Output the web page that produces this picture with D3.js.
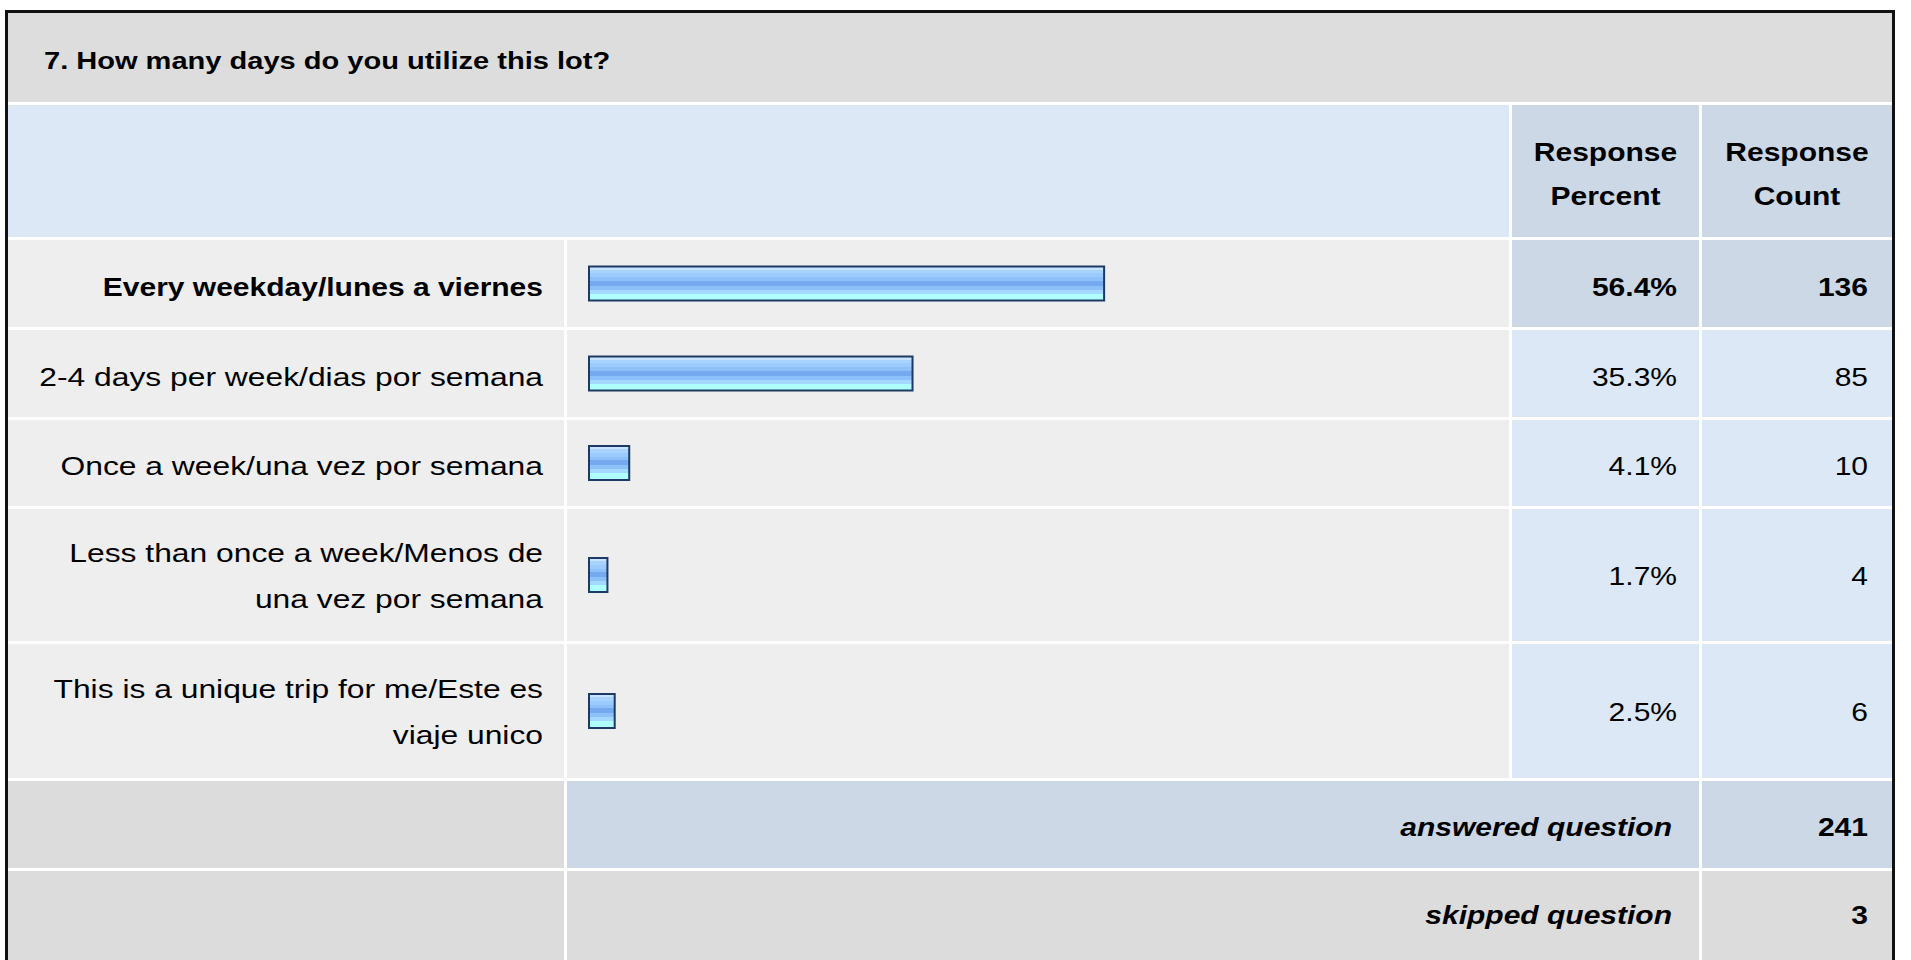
<!DOCTYPE html>
<html>
<head>
<meta charset="utf-8">
<script src="https://cdn.jsdelivr.net/npm/d3@7"></script>
<style>
  html, body { margin: 0; padding: 0; background: #ffffff; }
  svg { display: block; }
  text { font-family: "Liberation Sans", Arial, Helvetica, sans-serif; fill: #000; }
</style>
</head>
<body>
<svg id="chart" width="1911" height="960"></svg>
<script>
// ---------------- DATA ----------------
const questionTitle = "7. How many days do you utilize this lot?";
const headerPercent = ["Response", "Percent"];
const headerCount = ["Response", "Count"];
const categories = [
  ["Every weekday/lunes a viernes"],
  ["2-4 days per week/dias por semana"],
  ["Once a week/una vez por semana"],
  ["Less than once a week/Menos de", "una vez por semana"],
  ["This is a unique trip for me/Este es", "viaje unico"]
];
const percents = [56.4, 35.3, 4.1, 1.7, 2.5];
const counts = [136, 85, 10, 4, 6];
const summaryLabels = ["answered question", "skipped question"];
const summaryValues = [241, 3];

// ---------------- LAYOUT ----------------
const SX = 1.2;          // horizontal stretch of the reference's text
const FS = 25;           // body font size
const cols = [[8, 564], [567, 1509], [1512, 1699], [1702, 1892]];
const titleBand = [13, 102];
const headerBand = [105, 237];
const rowBands = [[240, 327], [330, 417], [420, 506], [509, 641], [644, 778]];
const summaryBands = [[781, 868], [871, 962]];
const C = {
  title: "#dddddd", header: "#dce8f5", headerCell: "#ccd8e6",
  row: "#eeeeee", valueCell: "#dce8f5", valueCellHi: "#ccd8e6",
  sumLabel: "#dcdcdc", answered: "#ccd8e6", skipped: "#dcdcdc"
};

const svg = d3.select("#chart");
const defs = svg.append("defs");
const grad = defs.append("linearGradient").attr("id", "barGrad")
  .attr("x1", 0).attr("y1", 0).attr("x2", 0).attr("y2", 1);
const stripes = [
  [0.00, "#c8e2ff"], [0.10, "#a9d3ff"], [0.20, "#9ccbff"], [0.32, "#8fc0fa"],
  [0.42, "#76aaf0"], [0.56, "#8cc0f8"], [0.68, "#a4d8ff"], [0.80, "#b0ffff"], [1.00, "#b0ffff"]
];
stripes.forEach((s, i) => {
  if (i > 0) grad.append("stop").attr("offset", s[0]).attr("stop-color", stripes[i - 1][1]);
  grad.append("stop").attr("offset", s[0]).attr("stop-color", s[1]);
});

function cell(x0, x1, y0, y1, fill) {
  svg.append("rect").attr("x", x0).attr("y", y0)
    .attr("width", x1 - x0).attr("height", y1 - y0).attr("fill", fill);
}
function txt(x, y, s, opts = {}) {
  return svg.append("text")
    .attr("transform", `translate(${x},${y}) scale(${opts.sx || SX},1)`)
    .attr("text-anchor", opts.anchor || "start")
    .attr("font-size", opts.size || FS)
    .attr("font-weight", opts.bold ? "bold" : "normal")
    .attr("font-style", opts.italic ? "italic" : "normal")
    .text(s);
}

// Title band
cell(cols[0][0], cols[3][1], titleBand[0], titleBand[1], C.title);
txt(44, (titleBand[0] + titleBand[1]) / 2 + 11, questionTitle, { bold: true, size: 24.2 });

// Header band
cell(cols[0][0], cols[1][1], headerBand[0], headerBand[1], C.header);
cell(cols[2][0], cols[2][1], headerBand[0], headerBand[1], C.headerCell);
cell(cols[3][0], cols[3][1], headerBand[0], headerBand[1], C.headerCell);
const hc = (headerBand[0] + headerBand[1]) / 2;
headerPercent.forEach((s, i) => txt((cols[2][0] + cols[2][1]) / 2, hc - 10 + i * 44, s, { bold: true, anchor: "middle" }));
headerCount.forEach((s, i) => txt((cols[3][0] + cols[3][1]) / 2, hc - 10 + i * 44, s, { bold: true, anchor: "middle" }));

// Scale for bars
const x = d3.scaleLinear().domain([0, 100]).range([0, 908]);
const barX0 = 588, barH = 36, barBorder = 2;

// Data rows
categories.forEach((lines, i) => {
  const [y0, y1] = rowBands[i];
  const cy = (y0 + y1) / 2;
  const hi = i === 0;
  cell(cols[0][0], cols[0][1], y0, y1, C.row);
  cell(cols[1][0], cols[1][1], y0, y1, C.row);
  cell(cols[2][0], cols[2][1], y0, y1, hi ? C.valueCellHi : C.valueCell);
  cell(cols[3][0], cols[3][1], y0, y1, hi ? C.valueCellHi : C.valueCell);
  const n = lines.length;
  const dy = n === 1 ? 12 : 10;
  lines.forEach((s, j) => {
    txt(543, cy + dy + (j - (n - 1) / 2) * 46, s, { anchor: "end", bold: hi, size: hi ? FS : 26.5 });
  });
  txt(1677, cy + dy, percents[i].toFixed(1) + "%", { anchor: "end", bold: hi });
  txt(1868, cy + dy, String(counts[i]), { anchor: "end", bold: hi });
});

// Bars
svg.append("g").selectAll("rect").data(percents).join("rect")
  .attr("x", barX0 + barBorder / 2)
  .attr("y", (d, i) => (rowBands[i][0] + rowBands[i][1]) / 2 - barH / 2 + barBorder / 2)
  .attr("width", d => x(d) + 5 - barBorder)
  .attr("height", barH - barBorder)
  .attr("fill", "url(#barGrad)")
  .attr("stroke", "#1c3a63")
  .attr("stroke-width", barBorder);

// Summary rows
summaryLabels.forEach((s, i) => {
  const [y0, y1] = summaryBands[i];
  const fill = i === 0 ? C.answered : C.skipped;
  cell(cols[0][0], cols[0][1], y0, y1, C.sumLabel);
  cell(cols[1][0], cols[2][1], y0, y1, fill);
  cell(cols[3][0], cols[3][1], y0, y1, fill);
  const ty = i === 0 ? 827 : 915;
  txt(1672, ty + 9, s, { anchor: "end", bold: true, italic: true });
  txt(1868, ty + 9, String(summaryValues[i]), { anchor: "end", bold: true });
});

// Outer border
svg.append("rect").attr("x", 6.5).attr("y", 11.5).attr("width", 1887).attr("height", 1000)
  .attr("fill", "none").attr("stroke", "#111").attr("stroke-width", 3);
</script>
</body>
</html>
